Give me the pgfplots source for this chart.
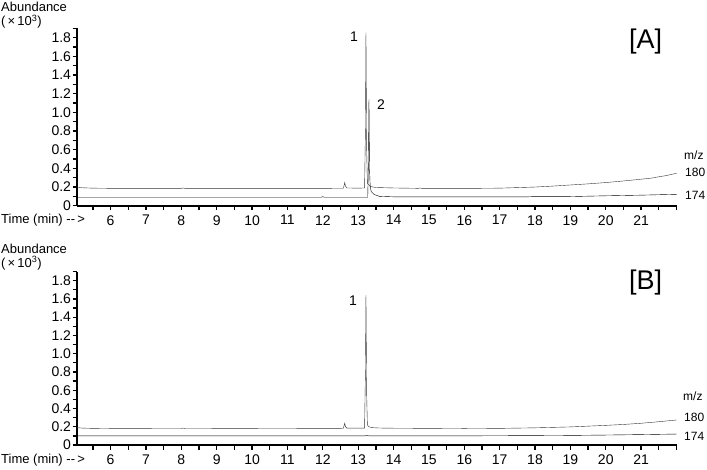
\documentclass[border=0pt]{standalone}
\usepackage{fontspec}
\setmainfont{Liberation Sans}
\usepackage{pgfplots}
\pgfplotsset{compat=1.18}
\definecolor{trace}{HTML}{333333}
\pgfplotsset{chrom/.style={
  scale only axis, width=599.5pt, ymin=0, ymax=1.9, xmin=5.05, xmax=22,
  axis lines*=left, axis line style={line width=1.7pt, black},
  tick align=outside, major tick length=4.5pt, minor tick length=4.5pt,
  tick style={line width=1.3pt, black},
  xtick={6,...,22},
  xticklabels={6,7,8,9,10,11,12,13,14,15,16,17,18,19,20,21,{}},
  minor xtick={5.5,6.5,...,21.5},
  ytick={0,0.2,0.4,0.6,0.8,1.0,1.2,1.4,1.6,1.8},
  yticklabels={0,0.2,0.4,0.6,0.8,1.0,1.2,1.4,1.6,1.8},
  minor ytick={0.1,0.3,0.5,0.7,0.9,1.1,1.3,1.5,1.7,1.9},
  ticklabel style={font=\fontsize{14}{14}\selectfont, text=black},
  xticklabel style={yshift=-1.5pt},
  yticklabel style={xshift=2pt},
  clip=false,
  cycle list={{trace, no markers, line width=1.1pt, line join=round}},
}}
\begin{document}
\begin{tikzpicture}[x=1pt,y=1pt]
\path[use as bounding box] (0,0) rectangle (707,469);
% Panel A
\begin{axis}[chrom, height=177.3pt, at={(77pt,263.3pt)}, anchor=south west]
\addplot coordinates {(5.05,0.20)(5.2,0.192)(5.5,0.188)(6,0.186)(7,0.185)(8,0.186)(8.05,0.19)(8.1,0.186)(9,0.185)(10,0.185)(11,0.186)(12,0.186)(12.58,0.187)(12.6,0.215)(12.62,0.248)(12.64,0.21)(12.68,0.19)(13.0,0.188)(13.18,0.19)(13.205,0.8)(13.22,1.854)(13.24,0.6)(13.26,0.24)(13.3,0.225)(13.35,0.205)(13.5,0.195)(14,0.19)(14.7,0.186)(14.75,0.19)(14.8,0.186)(15,0.186)(16,0.185)(17,0.188)(18,0.2)(18.5,0.21)(19,0.222)(19.5,0.234)(20,0.248)(20.5,0.265)(21,0.284)(21.3,0.296)(21.5,0.31)(21.7,0.322)(21.85,0.335)(22,0.347)};
\addplot coordinates {(5.05,0.09)(6,0.09)(8,0.09)(10,0.09)(11.95,0.09)(12.0,0.097)(12.05,0.09)(13.27,0.09)(13.29,0.45)(13.305,1.14)(13.32,0.4)(13.34,0.2)(13.37,0.15)(13.45,0.12)(13.6,0.1)(14,0.095)(16,0.094)(17.8,0.095)(18,0.098)(19,0.098)(20,0.106)(21,0.113)(22,0.122)};
\end{axis}
% Panel B
\begin{axis}[chrom, height=173.5pt, at={(77pt,24pt)}, anchor=south west]
\addplot coordinates {(5.05,0.19)(5.2,0.185)(5.5,0.182)(6,0.18)(7,0.18)(8,0.181)(8.05,0.185)(8.1,0.181)(9,0.18)(10,0.18)(11,0.181)(12,0.182)(12.58,0.183)(12.6,0.21)(12.62,0.238)(12.64,0.2)(12.68,0.185)(13.0,0.184)(13.18,0.185)(13.205,0.8)(13.22,1.643)(13.24,0.55)(13.26,0.22)(13.3,0.2)(13.4,0.19)(13.6,0.186)(14,0.184)(15,0.182)(16,0.18)(17,0.182)(18,0.188)(19,0.198)(20,0.215)(20.5,0.225)(21,0.238)(21.5,0.255)(22,0.274)};
\addplot coordinates {(5.05,0.10)(6,0.10)(8,0.10)(10,0.10)(12,0.10)(13.2,0.1)(13.25,0.105)(13.3,0.1)(14,0.1)(16,0.1)(18,0.103)(19,0.105)(20,0.109)(21,0.114)(22,0.12)};
\end{axis}
\begin{scope}[every node/.style={inner sep=0pt, text=black, font=\fontsize{13}{13}\selectfont}]
% panel A
\node[anchor=west] at (1,462.3) {Abundance};
\node[anchor=west] at (1,447.3) {(\,×\,10\textsuperscript{3})};
\node[anchor=west] at (1,249) {Time (min) -{}-\,>};
\node at (645.5,427.5) {\fontsize{27}{28}\selectfont [A]};
\node at (354,432.3) {\fontsize{14}{14}\selectfont 1};
\node at (381,364) {\fontsize{14}{14}\selectfont 2};
\node[anchor=west] at (684,314) {\fontsize{12}{12}\selectfont m/z};
\node[anchor=west] at (685,296.5) {\fontsize{12}{12}\selectfont 180};
\node[anchor=west] at (685,274) {\fontsize{12}{12}\selectfont 174};
% panel B
\node[anchor=west] at (1,220) {Abundance};
\node[anchor=west] at (1,205.7) {(\,×\,10\textsuperscript{3})};
\node[anchor=west] at (1,9) {Time (min) -{}-\,>};
\node at (645.5,186) {\fontsize{27}{28}\selectfont [B]};
\node at (353,168) {\fontsize{14}{14}\selectfont 1};
\node[anchor=west] at (683,72.3) {\fontsize{12}{12}\selectfont m/z};
\node[anchor=west] at (684,51.3) {\fontsize{12}{12}\selectfont 180};
\node[anchor=west] at (684,32.3) {\fontsize{12}{12}\selectfont 174};
\end{scope}
\end{tikzpicture}
\end{document}
